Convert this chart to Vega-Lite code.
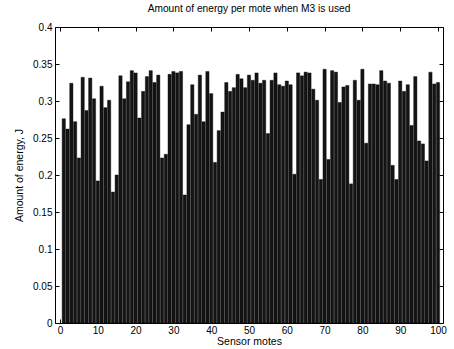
{
  "$schema": "https://vega.github.io/schema/vega-lite/v6.json",
  "width": 388,
  "height": 296,
  "autosize": {"type": "none"},
  "padding": {"left": 55, "top": 27, "right": 11, "bottom": 26},
  "background": "white",
  "config": {
    "font": "Liberation Sans",
    "view": {"stroke": "black", "strokeWidth": 1},
    "axis": {"grid": false, "domain": false, "tickColor": "black", "labelColor": "black", "titleColor": "black", "labelFont": "Liberation Sans", "titleFont": "Liberation Sans", "labelFontSize": 10, "titleFontSize": 10.5, "titleFontWeight": "normal"}
  },
  "title": {"text": "Amount of energy per mote when M3 is used", "fontSize": 10.2, "fontWeight": "normal", "font": "Liberation Sans", "color": "black", "offset": 8},
  "data": {"values": [
    {"mote": 1, "energy": 0.276}, {"mote": 2, "energy": 0.262}, {"mote": 3, "energy": 0.324}, {"mote": 4, "energy": 0.272}, {"mote": 5, "energy": 0.223},
    {"mote": 6, "energy": 0.332}, {"mote": 7, "energy": 0.287}, {"mote": 8, "energy": 0.331}, {"mote": 9, "energy": 0.303}, {"mote": 10, "energy": 0.192},
    {"mote": 11, "energy": 0.320}, {"mote": 12, "energy": 0.291}, {"mote": 13, "energy": 0.301}, {"mote": 14, "energy": 0.177}, {"mote": 15, "energy": 0.200},
    {"mote": 16, "energy": 0.334}, {"mote": 17, "energy": 0.303}, {"mote": 18, "energy": 0.326}, {"mote": 19, "energy": 0.341}, {"mote": 20, "energy": 0.338},
    {"mote": 21, "energy": 0.277}, {"mote": 22, "energy": 0.313}, {"mote": 23, "energy": 0.333}, {"mote": 24, "energy": 0.341}, {"mote": 25, "energy": 0.325},
    {"mote": 26, "energy": 0.335}, {"mote": 27, "energy": 0.223}, {"mote": 28, "energy": 0.228}, {"mote": 29, "energy": 0.336}, {"mote": 30, "energy": 0.340},
    {"mote": 31, "energy": 0.338}, {"mote": 32, "energy": 0.340}, {"mote": 33, "energy": 0.173}, {"mote": 34, "energy": 0.268}, {"mote": 35, "energy": 0.322},
    {"mote": 36, "energy": 0.282}, {"mote": 37, "energy": 0.335}, {"mote": 38, "energy": 0.272}, {"mote": 39, "energy": 0.340}, {"mote": 40, "energy": 0.310},
    {"mote": 41, "energy": 0.217}, {"mote": 42, "energy": 0.260}, {"mote": 43, "energy": 0.285}, {"mote": 44, "energy": 0.325}, {"mote": 45, "energy": 0.313},
    {"mote": 46, "energy": 0.318}, {"mote": 47, "energy": 0.336}, {"mote": 48, "energy": 0.330}, {"mote": 49, "energy": 0.318}, {"mote": 50, "energy": 0.335},
    {"mote": 51, "energy": 0.328}, {"mote": 52, "energy": 0.338}, {"mote": 53, "energy": 0.324}, {"mote": 54, "energy": 0.328}, {"mote": 55, "energy": 0.256},
    {"mote": 56, "energy": 0.328}, {"mote": 57, "energy": 0.338}, {"mote": 58, "energy": 0.322}, {"mote": 59, "energy": 0.320}, {"mote": 60, "energy": 0.327},
    {"mote": 61, "energy": 0.322}, {"mote": 62, "energy": 0.201}, {"mote": 63, "energy": 0.338}, {"mote": 64, "energy": 0.334}, {"mote": 65, "energy": 0.339},
    {"mote": 66, "energy": 0.338}, {"mote": 67, "energy": 0.316}, {"mote": 68, "energy": 0.301}, {"mote": 69, "energy": 0.194}, {"mote": 70, "energy": 0.343},
    {"mote": 71, "energy": 0.221}, {"mote": 72, "energy": 0.341}, {"mote": 73, "energy": 0.339}, {"mote": 74, "energy": 0.298}, {"mote": 75, "energy": 0.319},
    {"mote": 76, "energy": 0.321}, {"mote": 77, "energy": 0.188}, {"mote": 78, "energy": 0.328}, {"mote": 79, "energy": 0.301}, {"mote": 80, "energy": 0.343},
    {"mote": 81, "energy": 0.243}, {"mote": 82, "energy": 0.323}, {"mote": 83, "energy": 0.323}, {"mote": 84, "energy": 0.322}, {"mote": 85, "energy": 0.341},
    {"mote": 86, "energy": 0.327}, {"mote": 87, "energy": 0.324}, {"mote": 88, "energy": 0.213}, {"mote": 89, "energy": 0.194}, {"mote": 90, "energy": 0.327},
    {"mote": 91, "energy": 0.313}, {"mote": 92, "energy": 0.322}, {"mote": 93, "energy": 0.267}, {"mote": 94, "energy": 0.333}, {"mote": 95, "energy": 0.246},
    {"mote": 96, "energy": 0.242}, {"mote": 97, "energy": 0.219}, {"mote": 98, "energy": 0.339}, {"mote": 99, "energy": 0.323}, {"mote": 100, "energy": 0.325}
  ]},
  "resolve": {"axis": {"x": "independent", "y": "independent"}},
  "layer": [
    {
      "mark": {"type": "bar", "width": 3.25, "fill": "#141414", "stroke": "#000000", "strokeWidth": 0.4},
      "encoding": {
        "x": {"field": "mote", "type": "quantitative", "scale": {"domain": [0, 100], "nice": false, "zero": false},
              "axis": {"orient": "bottom", "values": [0,10,20,30,40,50,60,70,80,90,100], "tickSize": -4, "labelPadding": 6, "title": "Sensor motes", "titlePadding": 1}},
        "y": {"field": "energy", "type": "quantitative", "scale": {"domain": [0, 0.4], "nice": false},
              "axis": {"orient": "left", "values": [0,0.05,0.1,0.15,0.2,0.25,0.3,0.35,0.4], "format": "~g", "tickSize": -4, "labelPadding": 7, "title": "Amount of energy, J", "titlePadding": 8}}
      }
    },
    {
      "mark": {"type": "bar", "width": 3.25, "opacity": 0},
      "encoding": {
        "x": {"field": "mote", "type": "quantitative", "axis": {"orient": "top", "values": [0,10,20,30,40,50,60,70,80,90,100], "tickSize": -4, "labels": false, "title": null}},
        "y": {"field": "energy", "type": "quantitative", "axis": {"orient": "right", "values": [0,0.05,0.1,0.15,0.2,0.25,0.3,0.35,0.4], "tickSize": -4, "labels": false, "title": null}}
      }
    }
  ]
}
